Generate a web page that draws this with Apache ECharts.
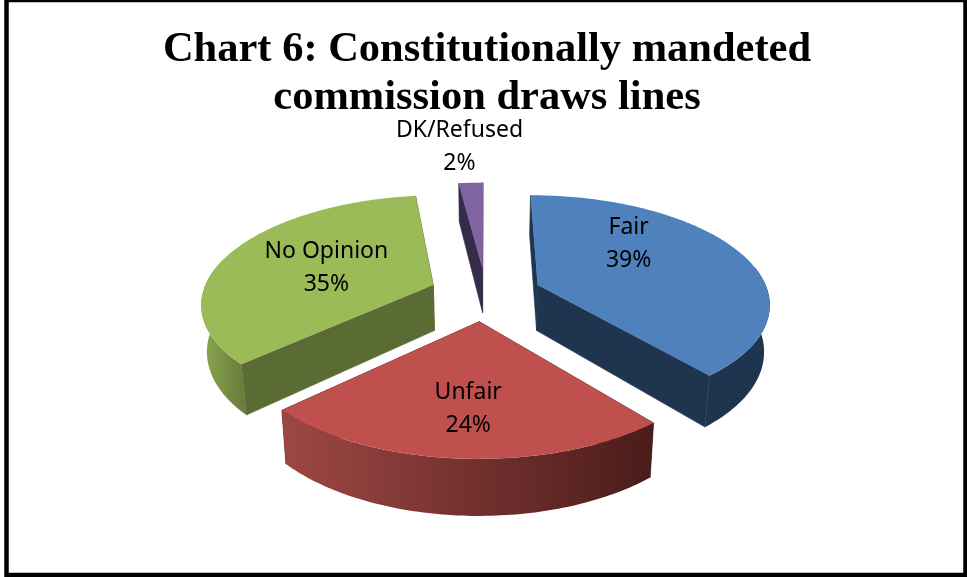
<!DOCTYPE html>
<html>
<head>
<meta charset="utf-8">
<title>Chart 6</title>
<script src="https://cdn.jsdelivr.net/npm/echarts@6/dist/echarts.min.js"></script>
<style>
html, body { margin: 0; padding: 0; background: #fff; }
#pie { width: 967px; height: 577px; }
</style>
</head>
<body>
<div id="pie"></div>
<script>
var categories = ['Fair', 'Unfair', 'No Opinion', 'DK/Refused'];
var percents = [39, 24, 35, 2];

// look of each slice, same order as categories
var topColors = ['#4F81BD', '#C0504D', '#9BBB59', '#8064A2'];
var faceColors = ['#1F344F', '#4A1C1A', '#5B6B34', '#372B4A'];
var wallLeft = ['#1F344F', '#9E4744', '#8CA850', '#372B4A'];
var wallRight = ['#1F344F', '#4A1C1A', '#66793A', '#372B4A'];
var drawRank = [2, 3, 1, 0];              // back slices first
var sliceNudge = [0, -1, 3, 2];           // small x shift, perspective of the original is not quite regular
var labelOffset = [[91, -41], [-11, 87], [-107, -17], [-23, -121]];  // from the slice tip

// the tilted disc
var cx = 484, cy = 294, radX = 231, radY = 106.4;
var persp = 0.155, depth = 46, explode = 0.25;

function project(X, Y, lower, nudge) {
    var s = 1 / (1 - persp * Y);
    var x = radX * X * s;
    var y = cy + radY * Y * s;
    if (lower) {
        x = x * 0.98;
        y = y + depth * s;
    }
    return [cx + x + nudge, y];
}

function renderSlice(params, api) {
    var i = params.dataIndex;
    var before = 0, total = 0;
    for (var n = 0; n < percents.length; n++) {
        if (n < i) before += percents[n];
        total += percents[n];
    }
    var start = before / total * 360;
    var end = (before + api.value(0)) / total * 360;
    var mid = (start + end) / 2 * Math.PI / 180;
    var tip = [explode * Math.sin(mid), -explode * Math.cos(mid)];
    var rank = drawRank[i] * 10;
    var nudge = sliceNudge[i];

    function rim(deg, lower) {
        var r = deg * Math.PI / 180;
        return project(tip[0] + Math.sin(r), tip[1] - Math.cos(r), lower, nudge);
    }

    var tipTop = project(tip[0], tip[1], false, nudge);
    var tipLow = project(tip[0], tip[1], true, nudge);

    var topPts = [tipTop];
    for (var d = start; d < end; d += 1) topPts.push(rim(d, false));
    topPts.push(rim(end, false));

    var children = [];
    // the two cut faces
    [start, end].forEach(function (deg) {
        children.push({
            type: 'polygon',
            z2: rank + 1,
            shape: {points: [tipTop, rim(deg, false), rim(deg, true), tipLow]},
            style: {fill: faceColors[i], stroke: faceColors[i], lineWidth: 0.6}
        });
    });
    // outer wall, only the part that faces us
    var a = Math.max(start, 80), b = Math.min(end, 285);
    if (b > a) {
        var upper = [], lowerPts = [];
        for (var w = a; w < b; w += 1) {
            upper.push(rim(w, false));
            lowerPts.unshift(rim(w, true));
        }
        upper.push(rim(b, false));
        lowerPts.unshift(rim(b, true));
        children.push({
            type: 'polygon',
            z2: rank + 2,
            shape: {points: upper.concat(lowerPts)},
            style: {
                fill: new echarts.graphic.LinearGradient(0, 0, 1, 0, [
                    {offset: 0, color: wallLeft[i]},
                    {offset: 1, color: wallRight[i]}
                ])
            }
        });
    }
    children.push({type: 'polygon', z2: rank + 3, shape: {points: topPts}, style: {fill: topColors[i]}});

    children.push({
        type: 'text',
        z2: 100,
        style: {
            x: tipTop[0] + labelOffset[i][0],
            y: tipTop[1] + labelOffset[i][1],
            text: categories[i] + '\n' + api.value(0) + '%',
            align: 'center',
            verticalAlign: 'middle',
            fill: '#000',
            font: '23px "Noto Sans"',
            lineHeight: 33
        }
    });
    return {type: 'group', children: children};
}

var myChart = echarts.init(document.getElementById('pie'));
myChart.setOption({
    animation: false,
    backgroundColor: '#fff',
    title: {
        text: 'Chart 6: Constitutionally mandeted\ncommission draws lines',
        left: 482,
        top: 21,
        textAlign: 'center',
        textStyle: {
            fontFamily: '"Liberation Serif"',
            fontWeight: 'bold',
            fontSize: 42.5,
            lineHeight: 48,
            color: '#000'
        }
    },
    graphic: [{
        type: 'rect',
        silent: true,
        shape: {x: 6.5, y: 0, width: 959, height: 575},
        style: {fill: 'none', stroke: '#000', lineWidth: 4.5}
    }],
    series: [{
        type: 'custom',
        coordinateSystem: 'none',
        renderItem: renderSlice,
        data: percents.map(function (v) { return [v]; })
    }]
});
</script>
</body>
</html>
